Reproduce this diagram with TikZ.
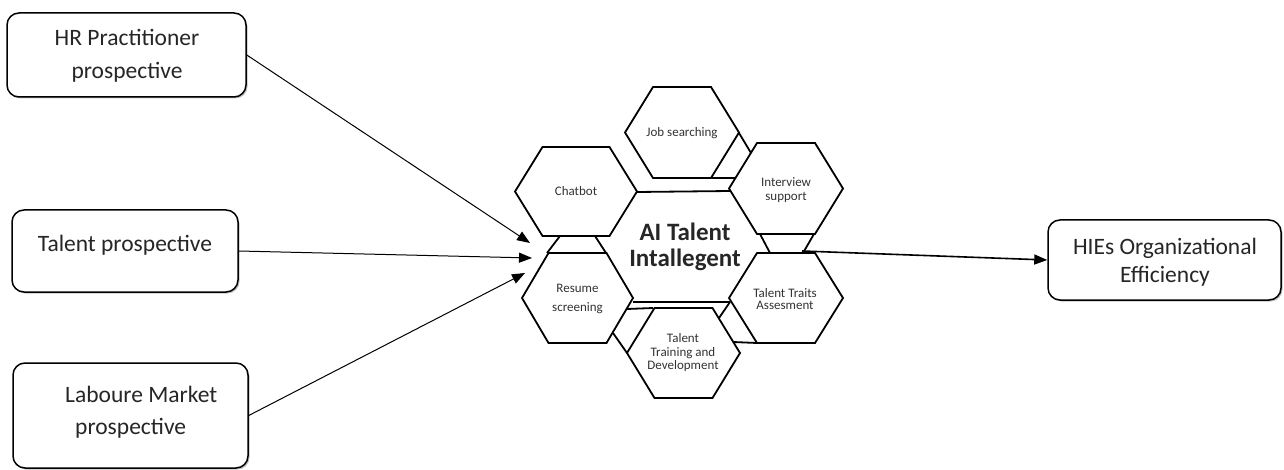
\documentclass[tikz,border=0pt]{standalone}
\usepackage{fontspec}
\setmainfont{Carlito}
\usetikzlibrary{arrows.meta,shadows}
\newcommand{\hexshape}[5]{\filldraw[hexline] (#1-#3,#2) -- (#1-#4,#2-#5) -- (#1+#4,#2-#5) -- (#1+#3,#2) -- (#1+#4,#2+#5) -- (#1-#4,#2+#5) -- cycle;}
\begin{document}
\begin{tikzpicture}[x=1pt,y=-1pt,
 hexline/.style={draw=black,fill=white,line width=1.8pt,line join=miter},
 hextext/.style={font=\fontsize{13}{13.5}\selectfont,text=black!80,align=center,inner sep=0pt},
 boxshape/.style={draw=black,line width=1.5pt,rounded corners=12pt,fill=white,drop shadow={shadow xshift=1.5pt,shadow yshift=-1.5pt,fill=black!50}},
 boxtext/.style={font=\fontsize{23.5}{33}\selectfont,text=black!85,align=center,inner sep=0pt},
 seg/.style={line width=1.8pt},
 arr/.style={line width=1pt,-{Triangle[length=13pt,width=10pt]}},
]
\useasboundingbox (0,0) rectangle (1284,470);
% boxes
\node[boxshape,minimum width=239pt,minimum height=84pt] (hr) at (126.5,55) {};
\node[boxshape,minimum width=226pt,minimum height=82pt] (tal) at (125,251) {};
\node[boxshape,minimum width=235pt,minimum height=105pt] (lab) at (130.5,415.5) {};
\node[boxshape,minimum width=233pt,minimum height=80pt] (hie) at (1164.5,260) {};
\node[boxtext] (hrT) at (127,56) {HR Practitioner\\prospective};
\node[boxtext] (talT) at (125,245) {Talent prospective};
\node[boxtext,font=\fontsize{23.5}{32}\selectfont,align=left,anchor=west] (labT) at (65,412) {Laboure Market\\\hspace*{10pt}prospective};
\node[boxtext,font=\fontsize{23.5}{28}\selectfont] (hieT) at (1165,262) {HIEs Organizational\\Efficiency};
% central hexagon edges
\draw[seg] (637,192) -- (730,191);
\draw[seg] (633,302) -- (730,302);
% connecting pieces
\draw[seg] (739,133) -- (751,153);
\draw[seg] (712,178) -- (736,178);
\draw[seg] (560,236) -- (547,253);
\draw[seg] (595,236) -- (606,253);
\draw[seg] (760,234) -- (770,253);
\draw[seg] (814,234) -- (803,253);
\draw[seg] (627,309) -- (653,308);
\draw[seg] (613,333) -- (627,353);
\draw[seg] (730,302) -- (719,318);
\draw[seg] (733,342) -- (757,343);
% hexagons
\hexshape{576}{191.5}{61}{33.5}{44.5}
\hexshape{682}{132.5}{57}{29}{45.5}
\hexshape{786}{188.5}{57}{29}{45.5}
\hexshape{577.5}{298}{55.5}{29}{45}
\hexshape{786}{298}{57}{29}{45}
\hexshape{683.5}{353}{56.5}{29}{45}
\node[font=\bfseries\fontsize{25}{26}\selectfont,text=black!85,align=center,inner sep=0pt] (ai) at (685,247) {AI Talent\\Intallegent};
\node[hextext] (chat) at (576,191) {Chatbot};
\node[hextext] (job) at (682,133) {Job searching};
\node[hextext] (intv) at (786,190) {Interview\\support};
\node[hextext,font=\fontsize{13}{19}\selectfont] (res) at (577.5,299) {Resume\\screening};
\node[hextext,font=\fontsize{13}{12.5}\selectfont] (trait) at (785,299) {Talent Traits\\Assesment};
\node[hextext] (train) at (683,353) {Talent\\Training and\\Development};
% arrows
\coordinate (tipHR) at (530,243);
\coordinate (tipTal) at (532,258);
\coordinate (tipLab) at (525,273);
\coordinate (outS) at (802,251);
\draw[arr] (hr.east) -- (tipHR);
\draw[arr] (tal.east) -- (tipTal);
\draw[arr] (lab.east) -- (tipLab);
\draw[arr,line width=1.6pt] (outS) -- (hie.west);
\end{tikzpicture}
\end{document}
